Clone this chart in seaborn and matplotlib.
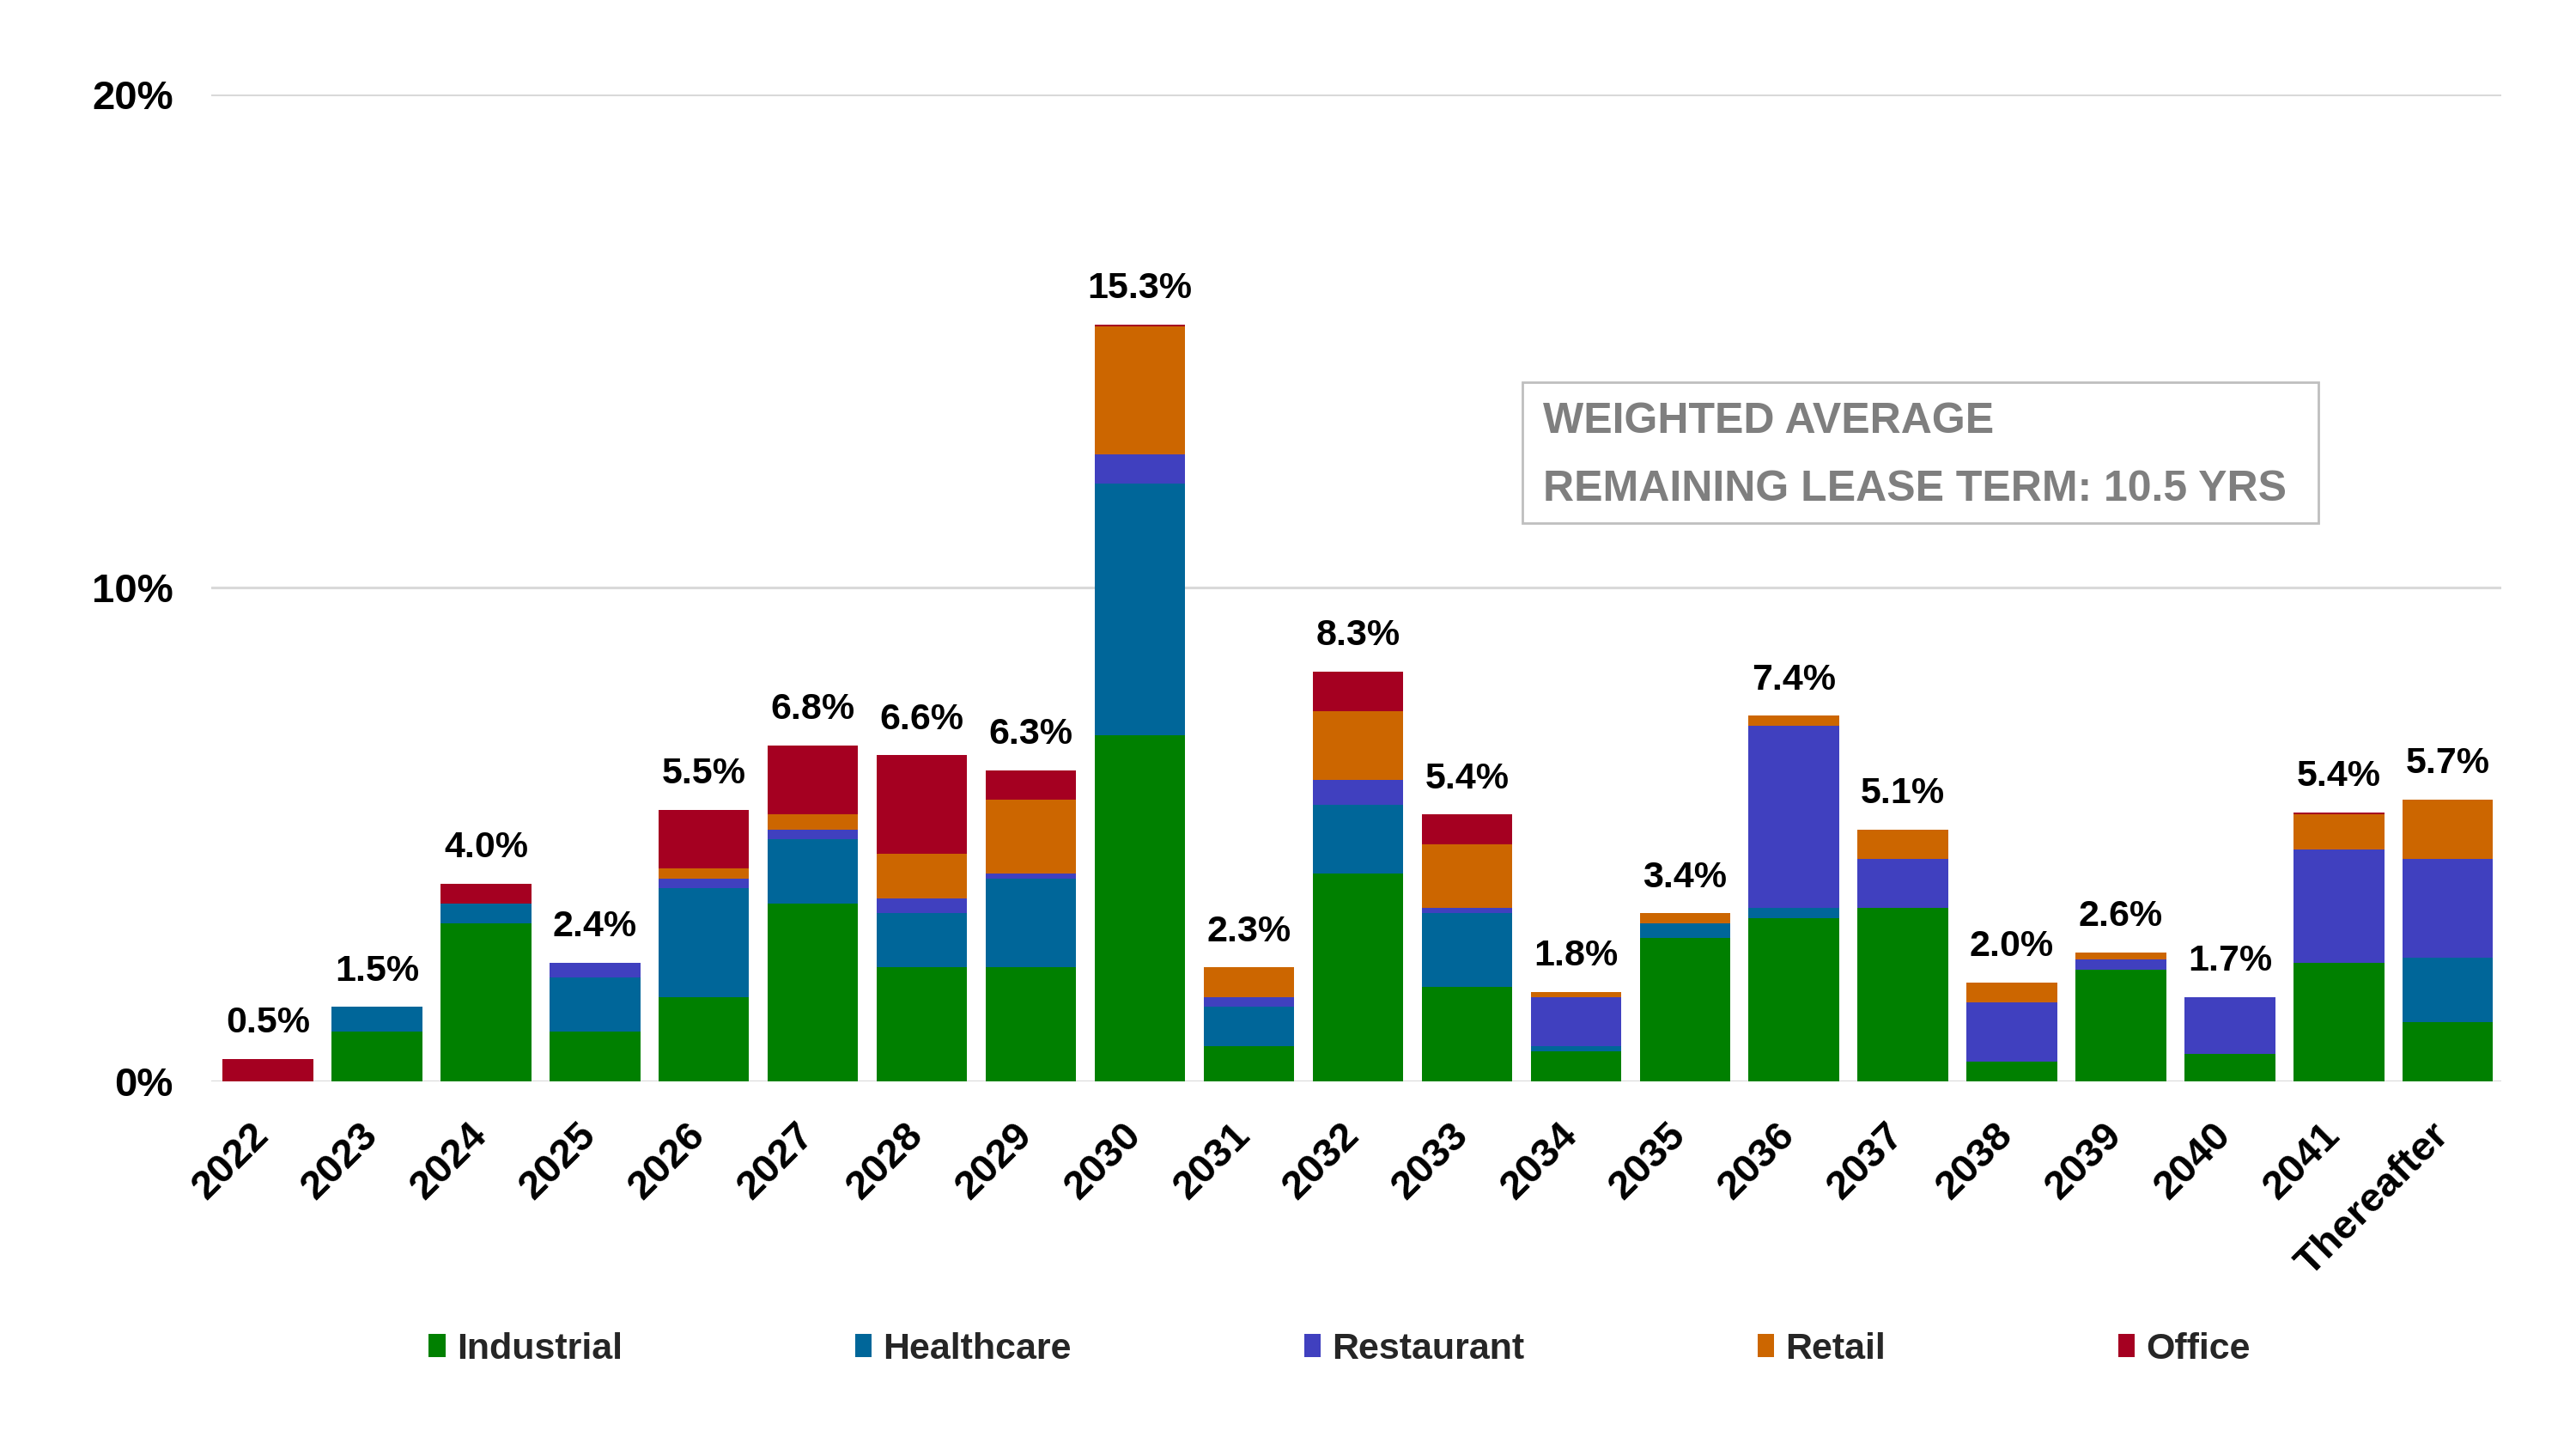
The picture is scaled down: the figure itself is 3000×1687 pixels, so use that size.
import matplotlib
matplotlib.use("Agg")
import matplotlib.pyplot as plt
import matplotlib.transforms as mtransforms
from matplotlib.patches import Patch, Rectangle
import numpy as np
import seaborn as sns

categories = ['2022', '2023', '2024', '2025', '2026', '2027', '2028', '2029', '2030', '2031',
              '2032', '2033', '2034', '2035', '2036', '2037', '2038', '2039', '2040', '2041',
              'Thereafter']
industrial = [0.0, 1.0, 3.2, 1.0, 1.7, 3.6, 2.3, 2.3, 7.0, 0.7, 4.2, 1.9, 0.6, 2.9, 3.3, 3.5, 0.4, 2.25, 0.55, 2.4, 1.2]
healthcare = [0.0, 0.5, 0.4, 1.1, 2.2, 1.3, 1.1, 1.8, 5.1, 0.8, 1.4, 1.5, 0.1, 0.3, 0.2, 0.0, 0.0, 0.0, 0.0, 0.0, 1.3]
restaurant = [0.0, 0.0, 0.0, 0.3, 0.2, 0.2, 0.3, 0.1, 0.6, 0.2, 0.5, 0.1, 1.0, 0.0, 3.7, 1.0, 1.2, 0.22, 1.15, 2.3, 2.0]
retail = [0.0, 0.0, 0.0, 0.0, 0.2, 0.3, 0.9, 1.5, 2.6, 0.6, 1.4, 1.3, 0.1, 0.2, 0.2, 0.6, 0.4, 0.14, 0.0, 0.7, 1.2]
office = [0.45, 0.0, 0.4, 0.0, 1.2, 1.4, 2.0, 0.6, 0.03, 0.0, 0.8, 0.6, 0.0, 0.0, 0.0, 0.0, 0.0, 0.0, 0.0, 0.04, 0.0]
total_labels = ['0.5%', '1.5%', '4.0%', '2.4%', '5.5%', '6.8%', '6.6%', '6.3%', '15.3%', '2.3%',
                '8.3%', '5.4%', '1.8%', '3.4%', '7.4%', '5.1%', '2.0%', '2.6%', '1.7%', '5.4%', '5.7%']
series_names = ['Industrial', 'Healthcare', 'Restaurant', 'Retail', 'Office']
series_colors = ['#008000', '#006699', '#4040BF', '#CC6600', '#A50021']
y_ticks = [0, 10, 20]
y_tick_labels = ['0%', '10%', '20%']
box_lines = ['WEIGHTED AVERAGE', 'REMAINING LEASE TERM: 10.5 YRS']

sns.set_theme(style="white")
plt.rcParams['font.family'] = ['Liberation Sans', 'DejaVu Sans']
plt.rcParams['font.weight'] = 'bold'

fig = plt.figure(figsize=(30, 16.87), dpi=100)
ax = fig.add_axes([0.082, 0.254, 0.889, 0.681])

layers = [industrial, healthcare, restaurant, retail, office]
cum = np.cumsum(np.array(layers, dtype=float), axis=0)

# draw from top layer (full total) downward so lower layers overdraw
for i in range(len(layers) - 1, -1, -1):
    sns.barplot(x=categories, y=cum[i], color=series_colors[i], saturation=1,
                width=0.83, ax=ax, linewidth=0, edgecolor='none', zorder=3)

totals = cum[-1]
for xi, (t, lab) in enumerate(zip(totals, total_labels)):
    ax.annotate(lab, xy=(xi, t), xytext=(0, 30), textcoords='offset points',
                ha='center', va='center', fontsize=31, fontweight='bold', color='black')

ax.set_xlim(-0.52, 20.49)
ax.set_ylim(0, 20)
ax.set_yticks(y_ticks)
ax.set_yticklabels(y_tick_labels, fontsize=34, fontweight='bold', color='black')
ax.tick_params(axis='y', length=0, pad=32)
ax.tick_params(axis='x', length=0, pad=41)
shift = mtransforms.ScaledTranslation(-4 / 72, 0, fig.dpi_scale_trans)
for lbl in ax.get_xticklabels():
    lbl.set_rotation(45)
    lbl.set_ha('right')
    lbl.set_va('center')
    lbl.set_rotation_mode('anchor')
    lbl.set_fontsize(34)
    lbl.set_fontweight('bold')
    lbl.set_color('black')
    lbl.set_transform(lbl.get_transform() + shift)
ax.set_xlabel('')
ax.set_ylabel('')
for s in ax.spines.values():
    s.set_visible(False)
ax.grid(False)
for yv in y_ticks:
    ax.axhline(yv, color='#D9D9D9', linewidth=2.2, zorder=1)

# weighted average box
fig.patches.append(Rectangle((0.591, 0.639), 0.309, 0.097, transform=fig.transFigure,
                             facecolor='white', edgecolor='#BFBFBF', linewidth=2, zorder=5))
fig.text(0.599, 0.709, box_lines[0], fontsize=36, fontweight='bold', color='#7F7F7F',
         ha='left', va='center', zorder=6)
fig.text(0.599, 0.662, box_lines[1], fontsize=36, fontweight='bold', color='#7F7F7F',
         ha='left', va='center', zorder=6)

handles = [Patch(facecolor=c, edgecolor='none', label=n) for n, c in zip(series_names, series_colors)]
fig.legend(handles=handles, loc='center', bbox_to_anchor=(0.52, 0.069), ncol=5, frameon=False,
           handlelength=0.45, handleheight=0.6, handletextpad=0.3,
           columnspacing=6.3, prop={'weight': 'bold', 'size': 31})

fig.savefig('out.png', dpi=100, facecolor='white')
